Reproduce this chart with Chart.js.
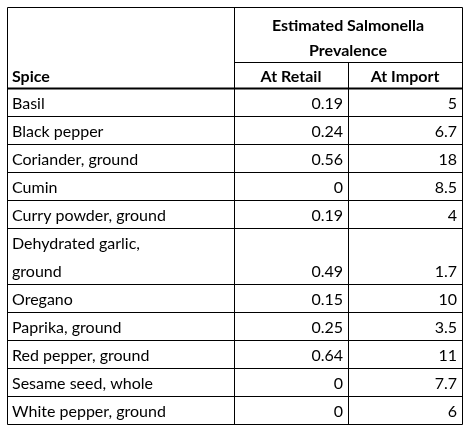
<!DOCTYPE html>
<html><head><meta charset="utf-8">
<script src="https://cdn.jsdelivr.net/npm/chart.js@4"></script>
<style>html,body{margin:0;padding:0;background:#fff}#w{width:466px;height:431px}</style>
</head><body><div id="w"><canvas id="c"></canvas></div>
<script>
const spices = ["Basil","Black pepper","Coriander, ground","Cumin","Curry powder, ground","Dehydrated garlic,\nground","Oregano","Paprika, ground","Red pepper, ground","Sesame seed, whole","White pepper, ground"];
const atRetail = ["0.19","0.24","0.56","0","0.19","0.49","0.15","0.25","0.64","0","0"];
const atImport = ["5","6.7","18","8.5","4","1.7","10","3.5","11","7.7","6"];
const colHeaders = ["Spice","At Retail","At Import"];
const groupHeader = ["Estimated Salmonella","Prevalence"];

const colEdges = [7,234,348,462];
const top0 = 7, h1 = 55, h2 = 26, lineH = 28;
const font = '16px Lato, "Open Sans", sans-serif';
const bold = 'bold 16px Lato, "Open Sans", sans-serif';

const tablePlugin = {
  id:'table',
  afterDraw(chart){
    const ctx = chart.ctx, X = v=>chart.scales.x.getPixelForValue(v), Y = v=>chart.scales.y.getPixelForValue(v);
    const rowEdges = [top0, top0+h1, top0+h1+h2];
    spices.forEach(s=>{rowEdges.push(rowEdges[rowEdges.length-1]+lineH*s.split("\n").length);});
    const bottom = rowEdges[rowEdges.length-1];
    ctx.save();
    ctx.strokeStyle='#000'; ctx.lineWidth=1;
    const line=(x1,y1,x2,y2)=>{ctx.beginPath();ctx.moveTo(Math.round(X(x1))+0.5,Math.round(Y(y1))+0.5);ctx.lineTo(Math.round(X(x2))+0.5,Math.round(Y(y2))+0.5);ctx.stroke();};
    // horizontals
    line(colEdges[0],rowEdges[0],colEdges[3],rowEdges[0]);
    line(colEdges[1],rowEdges[1],colEdges[3],rowEdges[1]);
    for(let i=2;i<rowEdges.length;i++) line(colEdges[0],rowEdges[i],colEdges[3],rowEdges[i]);
    // verticals
    line(colEdges[0],top0,colEdges[0],bottom);
    line(colEdges[1],top0,colEdges[1],bottom);
    line(colEdges[2],rowEdges[1],colEdges[2],bottom);
    line(colEdges[3],top0,colEdges[3],bottom);
    ctx.lineWidth=2;
    line(colEdges[0],rowEdges[2],colEdges[3],rowEdges[2]);
    ctx.fillStyle='#000'; ctx.textBaseline='bottom';
    // headers
    ctx.font=bold; ctx.textAlign='center';
    const gc=(colEdges[1]+colEdges[3])/2;
    ctx.fillText(groupHeader[0],X(gc),Y(top0+27));
    ctx.fillText(groupHeader[1],X(gc),Y(top0+52));
    ctx.textAlign='left';
    ctx.fillText(colHeaders[0],X(colEdges[0]+5),Y(rowEdges[2]-3));
    ctx.textAlign='center';
    ctx.fillText(colHeaders[1],X((colEdges[1]+colEdges[2])/2),Y(rowEdges[2]-3));
    ctx.fillText(colHeaders[2],X((colEdges[2]+colEdges[3])/2),Y(rowEdges[2]-3));
    ctx.font=font;
    spices.forEach((s,i)=>{
      const b=rowEdges[i+3]-4, lines=s.split("\n");
      ctx.textAlign='left';
      lines.forEach((l,j)=>ctx.fillText(l,X(colEdges[0]+5),Y(b-(lines.length-1-j)*lineH)));
      ctx.textAlign='right';
      ctx.fillText(atRetail[i],X(colEdges[2]-5),Y(b));
      ctx.fillText(atImport[i],X(colEdges[3]-5),Y(b));
    });
    ctx.restore();
  }
};
new Chart(document.getElementById('c'),{
  type:'scatter',
  data:{datasets:[{data:[],pointRadius:0}]},
  options:{responsive:true,maintainAspectRatio:false,animation:false,
    layout:{padding:0},
    plugins:{legend:{display:false},tooltip:{enabled:false}},
    scales:{x:{type:'linear',min:0,max:466,display:false},y:{type:'linear',min:0,max:431,reverse:true,display:false}}},
  plugins:[tablePlugin]
});
</script></body></html>
